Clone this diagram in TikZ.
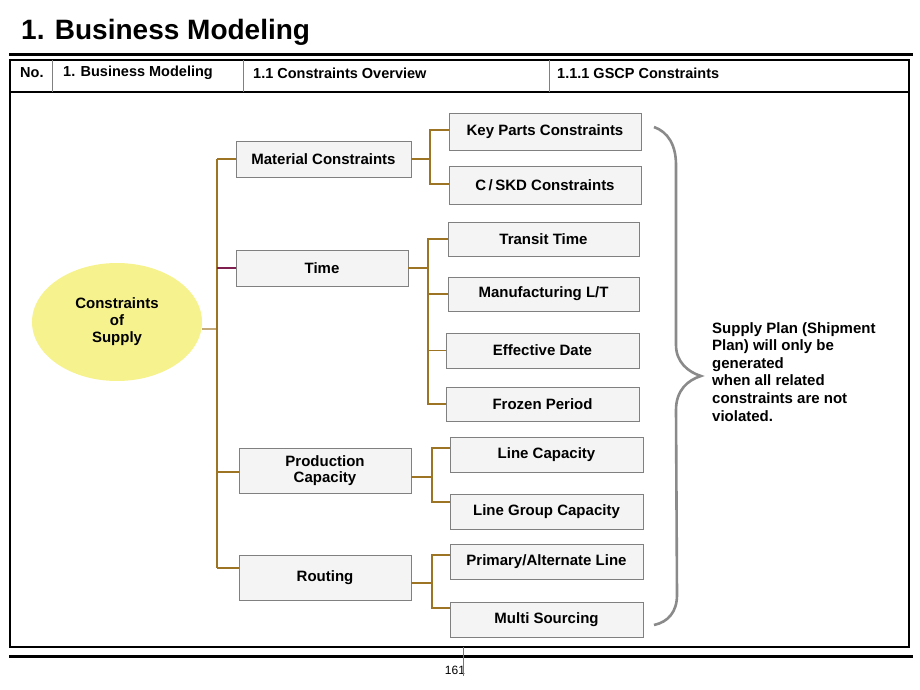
\documentclass[tikz,border=0pt]{standalone}
\usepackage{fontspec}
\setmainfont{Liberation Sans}
\usetikzlibrary{shapes.geometric}
\definecolor{conn}{HTML}{9C7424}
\definecolor{rootconn}{HTML}{C4AA78}
\definecolor{timeconn}{HTML}{7F1F4F}
\definecolor{boxfill}{HTML}{F4F4F4}
\definecolor{boxline}{HTML}{808080}
\definecolor{ellfill}{HTML}{F6F28E}
\definecolor{bracecol}{HTML}{8A8A8A}
\begin{document}
\begin{tikzpicture}[x=1pt,y=-1pt,
  every node/.style={font=\bfseries\fontsize{15}{17}\selectfont},
  box/.style={draw=boxline,fill=boxfill,line width=0.8pt,rectangle,inner sep=0pt,align=center},
  cn/.style={draw=conn,line width=1.3pt},
  hdr/.style={anchor=west,inner sep=0pt,font=\bfseries\fontsize{14.5}{17}\selectfont},
  frm/.style={line width=2.5pt,black}]
\useasboundingbox (0,0) rectangle (920,690);
% title
\node[anchor=base west,inner sep=0pt,font=\bfseries\fontsize{28}{32}\selectfont] (title) at (21,40) {1. Business Modeling};
% frame
\draw[line width=3pt] (9,55) -- (913,55);
\draw[line width=1.2pt] (10,60) -- (909,60);
\draw[frm] (10,59) -- (10,647) -- (909,647) -- (909,59);
\draw[line width=1.1pt] (10,92) -- (909,92);
\draw[line width=1pt,gray] (52,60) -- (52,92);
\draw[line width=1pt,gray] (243,60) -- (243,92);
\draw[line width=1pt,gray] (549,60) -- (549,92);
\draw[line width=3pt] (9,656) -- (913,656);
\node[hdr] (h0) at (20,73) {No.};
\node[hdr] (h1) at (63,73) {1. Business Modeling};
\node[hdr] (h2) at (253,73) {1.1 Constraints Overview};
\node[hdr] (h3) at (557,73) {1.1.1 GSCP Constraints};
% page number
\node[font=\fontsize{12}{13}\selectfont,inner sep=0pt] (pg) at (455,670) {161};
\coordinate (s1) at (463,647);
\coordinate (s2) at (463,676);
\draw[conn,line width=0.9pt] (s1) -- (s2);
% root
\node[ellipse,fill=ellfill,minimum width=170pt,minimum height=118pt,inner sep=0pt,align=center] (cs) at (117,322) {Constraints\\of\\Supply};
% level 1
\node[box,minimum width=175pt,minimum height=36pt] (mat) at (323.5,159) {Material Constraints};
\node[box,minimum width=172pt,minimum height=36pt] (time) at (322,268) {Time};
\node[box,minimum width=172pt,minimum height=45pt] (prod) at (325,470.5) {Production\\[-1pt]Capacity};
\node[box,minimum width=172pt,minimum height=45pt] (rout) at (325,577.5) {Routing};
% level 2
\node[box,minimum width=192pt,minimum height=37pt] (kp) at (545,131.5) {Key Parts Constraints};
\node[box,minimum width=192pt,minimum height=38pt] (csk) at (545,185) {C\,/\,SKD Constraints};
\node[box,minimum width=191pt,minimum height=34pt] (tt) at (543.5,239) {Transit Time};
\node[box,minimum width=191pt,minimum height=34pt] (mlt) at (543.5,294) {Manufacturing L/T};
\node[box,minimum width=193pt,minimum height=35pt] (ed) at (542.5,350.5) {Effective Date};
\node[box,minimum width=193pt,minimum height=34pt] (fp) at (542.5,404) {Frozen Period};
\node[box,minimum width=193pt,minimum height=35pt] (lc) at (546.5,454.5) {Line Capacity};
\node[box,minimum width=193pt,minimum height=35pt] (lgc) at (546.5,511.5) {Line Group Capacity};
\node[box,minimum width=193pt,minimum height=35pt] (pal) at (546.5,561.5) {Primary/Alternate Line};
\node[box,minimum width=193pt,minimum height=35pt] (ms) at (546.5,619.5) {Multi Sourcing};
% trunk
\coordinate (tr) at (217,0);
\coordinate (tj) at (217,329);
\draw[draw=rootconn,line width=1.8pt] ([yshift=-7pt]cs.east) -- (tj);
\draw[cn] (mat.west -| tr) -- ([yshift=9.5pt]rout.west -| tr);
\draw[conn,line width=2.2pt] (tj) -- ++(0,-31);
\draw[cn] (mat.west) -- (mat.west -| tr);
\draw[draw=timeconn,line width=1.3pt] (time.west) -- (time.west -| tr);
\draw[cn] ([yshift=-1.5pt]prod.west) -- ([yshift=-1.5pt]prod.west -| tr);
\draw[cn] ([yshift=9.5pt]rout.west) -- ([yshift=9.5pt]rout.west -| tr);
% material branch
\coordinate (mx) at (430,0);
\draw[cn] (mat.east) -- (mat.east -| mx);
\draw[cn] ([yshift=1.5pt]kp.west) -- ([yshift=1.5pt]kp.west -| mx) |- ([yshift=1pt]csk.west);
% time branch
\coordinate (tx) at (428,0);
\draw[conn,line width=1.8pt] (time.east) -- (time.east -| tx);
\draw[cn] (tt.west) -- (tt.west -| tx) |- (fp.west);
\draw[cn] (mlt.west) -- (mlt.west -| tx);
\draw[cn] (ed.west) -- (ed.west -| tx);
% production branch
\coordinate (px) at (432,0);
\draw[conn,line width=1.8pt] ([yshift=-6.5pt]prod.east) -- ([yshift=-6.5pt]prod.east -| px);
\draw[cn] ([yshift=6.5pt]lc.west) -- ([yshift=6.5pt]lc.west -| px) |- ([yshift=9.5pt]lgc.west);
% routing branch
\draw[conn,line width=1.8pt] ([yshift=-5.5pt]rout.east) -- ([yshift=-5.5pt]rout.east -| px);
\draw[cn] ([yshift=6.5pt]pal.west) -- ([yshift=6.5pt]pal.west -| px) |- ([yshift=11.5pt]ms.west);
% brace
\coordinate (b0) at (654,127);
\coordinate (b1) at (676,165);
\coordinate (b2) at (676,345);
\coordinate (bt) at (701,376);
\coordinate (b3) at (676,410);
\coordinate (b4) at (677,595);
\coordinate (b5) at (654,625);
\draw[bracecol,line width=2.6pt] (b0) .. controls (668,132) and (676,145) .. (b1) -- (b2)
  .. controls (676,362) and (688,372) .. (bt)
  .. controls (688,380) and (676,390) .. (b3) -- (b4)
  .. controls (677,612) and (668,622) .. (b5);
% note
\node[anchor=north west,inner sep=0pt,align=left,font=\bfseries\fontsize{15}{17.6}\selectfont] (note) at (712,322) {Supply Plan (Shipment\\Plan) will only be\\generated\\when all related\\constraints are not\\violated.};
\end{tikzpicture}
\end{document}
